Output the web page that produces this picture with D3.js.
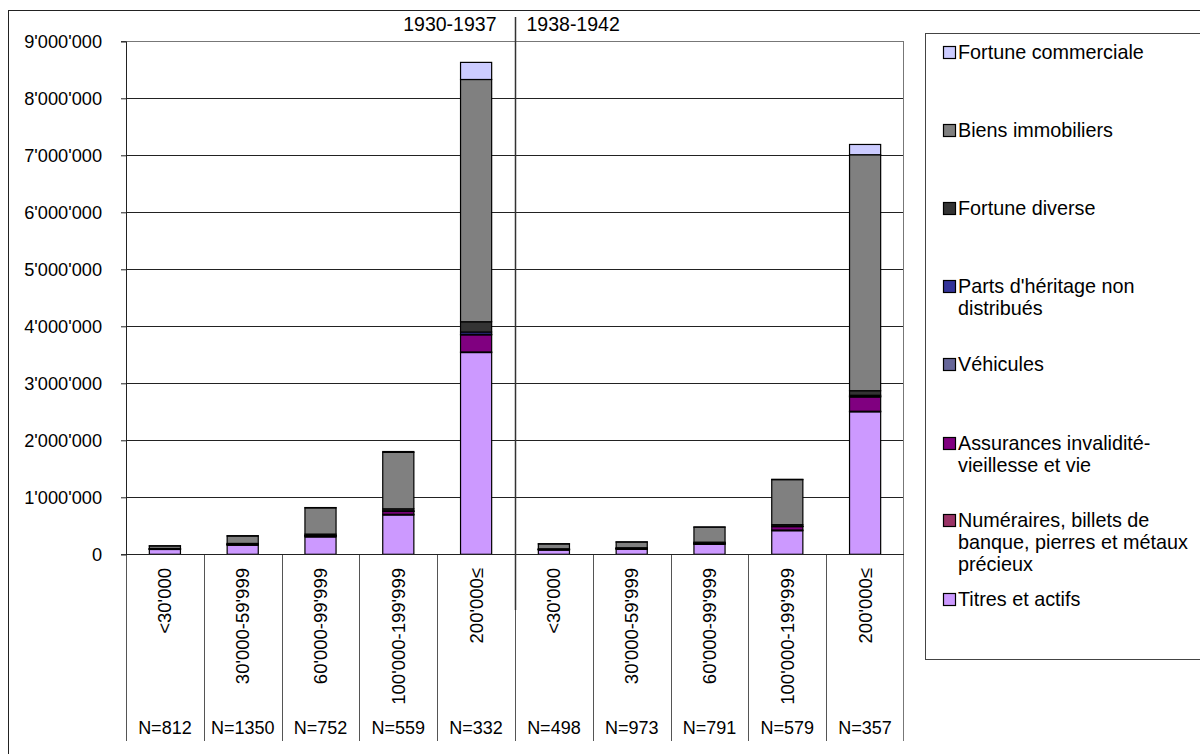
<!DOCTYPE html>
<html>
<head>
<meta charset="utf-8">
<script src="https://cdn.jsdelivr.net/npm/d3@7"></script>
<style>
  html, body { margin: 0; padding: 0; background: #fff; }
  svg { display: block; font-family: "Liberation Sans", Arial, sans-serif; }
</style>
</head>
<body>
<svg id="chart" width="1200" height="754"></svg>
<script>
// Wealth classes, two periods of five classes each
const categories = ["<30'000", "30'000-59'999", "60'000-99'999", "100'000-199'999", "200'000≤",
                    "<30'000", "30'000-59'999", "60'000-99'999", "100'000-199'999", "200'000≤"];
const periods = ["1930-1937", "1938-1942"];
const counts = ["N=812", "N=1350", "N=752", "N=559", "N=332", "N=498", "N=973", "N=791", "N=579", "N=357"];
const yTicks = [0, 1000000, 2000000, 3000000, 4000000, 5000000, 6000000, 7000000, 8000000, 9000000];

// Series, stacked from the bottom up
const seriesNames = [
  "Titres et actifs",
  "Numéraires, billets de banque, pierres et métaux précieux",
  "Assurances invalidité-vieillesse et vie",
  "Véhicules",
  "Parts d'héritage non distribués",
  "Fortune diverse",
  "Biens immobiliers",
  "Fortune commerciale"
];
const titres      = [85000, 160000, 305000, 690000, 3540000, 75000, 88000, 175000, 414000, 2500000];
const numeraires  = [3000, 5000, 8000, 12000, 10000, 3000, 4000, 6000, 12000, 10000];
const assurances  = [5000, 10000, 15000, 50000, 300000, 8000, 10000, 12000, 60000, 250000];
const vehicules   = [1000, 1000, 2000, 3000, 10000, 1000, 1000, 2000, 3000, 10000];
const parts       = [2000, 3000, 5000, 8000, 40000, 2000, 2000, 3000, 6000, 20000];
const diverse     = [6000, 12000, 20000, 35000, 180000, 8000, 10000, 15000, 25000, 80000];
const immobiliers = [45000, 130000, 460000, 990000, 4250000, 85000, 100000, 262000, 790000, 4140000];
const commerciale = [3000, 6000, 5000, 15000, 300000, 4000, 4000, 5000, 6000, 180000];
const seriesValues = [titres, numeraires, assurances, vehicules, parts, diverse, immobiliers, commerciale];
const seriesColors = ["#CC99FF", "#993366", "#800080", "#666699", "#333399", "#333333", "#808080", "#CCCCFF"];

// Legend lines (top to bottom), with the wrapped label text
const legendLines = [
  ["Fortune commerciale"],
  ["Biens immobiliers"],
  ["Fortune diverse"],
  ["Parts d'héritage non", "distribués"],
  ["Véhicules"],
  ["Assurances invalidité-", "vieillesse et vie"],
  ["Numéraires, billets de", "banque, pierres et métaux", "précieux"],
  ["Titres et actifs"]
];
const legendTops = [46, 124, 202, 280, 358, 437, 514, 593];

const svg = d3.select("#chart");

const plot = { left: 126, right: 904, top: 41.3, bottom: 554.3, tableBottom: 741 };

const rows = categories.map((c, i) => {
  const r = { i };
  seriesNames.forEach((s, k) => { r[s] = seriesValues[k][i]; });
  return r;
});

const x = d3.scaleBand()
  .domain(d3.range(categories.length))
  .range([plot.left, plot.right])
  .paddingInner(0.6)
  .paddingOuter(0.3);
const step = x.step();
const cellLeft = i => x(i) - step * 0.3;

const y = d3.scaleLinear().domain([0, 9000000]).range([plot.bottom, plot.top]);

// Outer frame
svg.append("rect")
  .attr("x", 8.5).attr("y", 10.5).attr("width", 1250).attr("height", 800)
  .attr("fill", "none").attr("stroke", "#222").attr("stroke-width", 1);

// Grid lines
svg.append("g").selectAll("line").data(yTicks.filter(t => t > 0)).join("line")
  .attr("x1", plot.left).attr("x2", plot.right)
  .attr("y1", d => Math.round(y(d)) + 0.5).attr("y2", d => Math.round(y(d)) + 0.5)
  .attr("stroke", d => d === 9000000 ? "#777" : "#222").attr("stroke-width", 1);

// Right edge of the plot area, down through the table
svg.append("line")
  .attr("x1", plot.right - 0.5).attr("x2", plot.right - 0.5)
  .attr("y1", plot.top).attr("y2", plot.tableBottom)
  .attr("stroke", "#777");

// Table cell dividers beneath the axis
svg.append("g").selectAll("line").data(d3.range(categories.length)).join("line")
  .attr("x1", d => Math.round(cellLeft(d)) + 0.5).attr("x2", d => Math.round(cellLeft(d)) + 0.5)
  .attr("y1", plot.bottom).attr("y2", plot.tableBottom)
  .attr("stroke", "#555").attr("stroke-width", 1);

// Stacked bars
const stack = d3.stack().keys(seriesNames);
const stacked = stack(rows);
svg.append("g").selectAll("g").data(stacked).join("g")
  .attr("fill", (d, k) => seriesColors[k])
  .selectAll("rect").data(d => d).join("rect")
  .attr("x", (d, i) => x(i))
  .attr("width", x.bandwidth())
  .attr("y", d => y(d[1]))
  .attr("height", d => y(d[0]) - y(d[1]))
  .attr("stroke", "#000").attr("stroke-width", 1.2);

// Y axis
const yAxis = d3.axisLeft(y).tickValues(yTicks).tickSize(5).tickPadding(19)
  .tickFormat(d => d3.format(",")(d).replace(/,/g, "'"));
const gy = svg.append("g").attr("transform", `translate(${plot.left},0)`).call(yAxis);
gy.select(".domain").attr("stroke", "#222");
gy.selectAll(".tick line").attr("stroke", "#222");
gy.selectAll(".tick text").attr("font-size", 18.2).attr("fill", "#000")
  .attr("font-family", "Liberation Sans, Arial, sans-serif");

// X axis line
svg.append("line")
  .attr("x1", plot.left).attr("x2", plot.right)
  .attr("y1", Math.round(plot.bottom) + 0.5).attr("y2", Math.round(plot.bottom) + 0.5)
  .attr("stroke", "#222");

// Period divider
const divX = Math.round(cellLeft(5)) + 0.5;
svg.append("line")
  .attr("x1", divX).attr("x2", divX).attr("y1", 17).attr("y2", 610)
  .attr("stroke", "#333").attr("stroke-width", 1.5);

// Period headers
svg.append("text").attr("x", divX - 19).attr("y", 24).attr("dy", "0.35em")
  .attr("text-anchor", "end").attr("font-size", 19.5).text(periods[0]);
svg.append("text").attr("x", divX + 11).attr("y", 24).attr("dy", "0.35em")
  .attr("text-anchor", "start").attr("font-size", 19.5).text(periods[1]);

// Category labels, rotated
svg.append("g").selectAll("text").data(categories).join("text")
  .attr("transform", (d, i) => `translate(${x(i) + x.bandwidth() / 2},568) rotate(-90)`)
  .attr("text-anchor", "end").attr("dy", "0.35em").attr("font-size", 18.5)
  .text(d => d);

// Counts
svg.append("g").selectAll("text").data(counts).join("text")
  .attr("x", (d, i) => x(i) + x.bandwidth() / 2).attr("y", 728).attr("dy", "0.35em")
  .attr("text-anchor", "middle").attr("font-size", 18)
  .text(d => d);

// Legend
const legend = svg.append("g");
legend.append("rect")
  .attr("x", 925.5).attr("y", 33.5).attr("width", 400).attr("height", 626)
  .attr("fill", "#fff").attr("stroke", "#444");
const legendColors = seriesColors.slice().reverse();
const items = legend.selectAll("g.item").data(legendLines).join("g").attr("class", "item")
  .attr("transform", (d, k) => `translate(943,${legendTops[k]})`);
items.append("rect").attr("x", 0.5).attr("y", 0.5).attr("width", 12).attr("height", 12)
  .attr("fill", (d, k) => legendColors[k]).attr("stroke", "#000").attr("stroke-width", 1.2);
items.each(function (lines) {
  const t = d3.select(this).append("text").attr("font-size", 19.8);
  lines.forEach((ln, j) => {
    t.append("tspan").attr("x", 15).attr("y", 6.5 + j * 22).attr("dy", "0.35em").text(ln);
  });
});
</script>
</body>
</html>
